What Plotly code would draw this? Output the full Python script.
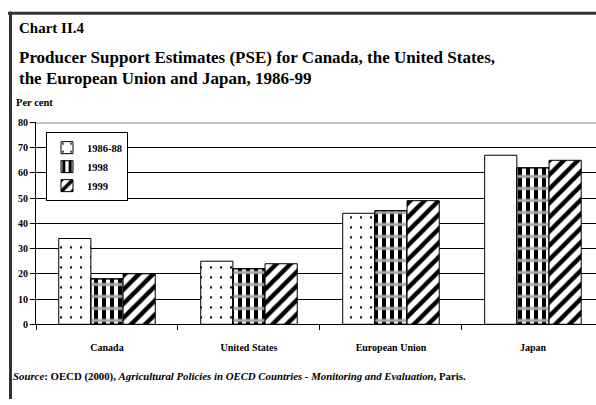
import plotly.graph_objects as go

# Producer Support Estimates, per cent of gross farm receipts
countries = ["Canada", "United States", "European Union", "Japan"]
pse_1986_88 = [34, 25, 44, 67]
pse_1998 = [18, 22, 45, 62]
pse_1999 = [20, 24, 49, 65]
y_ticks = [0, 10, 20, 30, 40, 50, 60, 70, 80]

W, H = 596, 405
SERIF = "Liberation Serif"


def px_x(x):
    return x / W


def px_y(y):
    return 1 - y / H


fig = go.Figure()

fig.add_trace(go.Bar(
    name="1986-88", x=countries, y=pse_1986_88, offsetgroup="a",
    marker=dict(color="white", line=dict(color="black", width=1),
                pattern=dict(shape=[".", ".", ".", ""], size=10, solidity=0.04,
                             fgcolor="black", bgcolor="white", fgopacity=1)),
))
fig.add_trace(go.Bar(
    name="1998", x=countries, y=pse_1998, offsetgroup="b",
    marker=dict(color="white", line=dict(color="black", width=1),
                pattern=dict(shape="|", size=8, solidity=0.5,
                             fgcolor="black", bgcolor="white", fgopacity=1)),
))
# horizontal grey bands laid over the 1998 stripes
fig.add_trace(go.Bar(
    name="1998", x=countries, y=pse_1998, offsetgroup="b", showlegend=False,
    hoverinfo="skip",
    marker=dict(color="rgba(0,0,0,0)", line=dict(color="black", width=1),
                pattern=dict(shape="-", size=12, solidity=0.25,
                             fgcolor="#a8a8a8", bgcolor="rgba(0,0,0,0)", fgopacity=1)),
))
fig.add_trace(go.Bar(
    name="1999", x=countries, y=pse_1999, offsetgroup="c",
    marker=dict(color="white", line=dict(color="black", width=1),
                pattern=dict(shape="/", size=10, solidity=0.45,
                             fgcolor="black", bgcolor="white", fgopacity=1)),
))

fig.update_layout(
    width=W, height=H,
    margin=dict(l=0, r=0, t=0, b=0),
    paper_bgcolor="white", plot_bgcolor="white",
    barmode="group", bargap=0.32, bargroupgap=0,
    font=dict(family=SERIF, color="black"),
    showlegend=True,
    legend=dict(x=px_x(46), y=px_y(130), xanchor="left", yanchor="top",
                bgcolor="white", bordercolor="black", borderwidth=1,
                font=dict(family=SERIF, size=10.5, weight="bold"),
                tracegroupgap=0, itemwidth=30),
)

fig.update_xaxes(
    domain=[px_x(36), 1], range=[-0.5, 3.444],
    showline=True, linecolor="black", linewidth=1,
    ticks="outside", tickson="boundaries", ticklen=5, tickcolor="black",
    ticklabelstandoff=14,
    tickfont=dict(family=SERIF, size=10, weight="bold"),
    showgrid=False, fixedrange=True,
)
fig.update_yaxes(
    domain=[px_y(328), px_y(120)], range=[0, 80],
    tickvals=y_ticks, ticktext=[str(v) for v in y_ticks],
    showline=True, linecolor="black", linewidth=1,
    ticks="outside", ticklen=5, tickcolor="black",
    tickfont=dict(family=SERIF, size=10, weight="bold"),
    showgrid=True, gridcolor="black", gridwidth=1, zeroline=False,
    fixedrange=True,
)

# frame: plot top line, outer top and left borders
fig.add_shape(type="line", xref="paper", yref="y", x0=px_x(36), x1=1, y0=80, y1=80,
              line=dict(color="#8a8a8a", width=2))
fig.add_shape(type="line", xref="paper", yref="paper", x0=px_x(8), x1=1,
              y0=px_y(7.5), y1=px_y(7.5), line=dict(color="#333333", width=3))
fig.add_shape(type="line", xref="paper", yref="paper", x0=px_x(10.5), x1=px_x(10.5),
              y0=0, y1=px_y(6), line=dict(color="#333333", width=3))

texts = [
    ("<b>Chart II.4</b>", 17, 23, 15),
    ("<b>Producer Support Estimates (PSE) for Canada, the United States,</b>", 17, 53, 17),
    ("<b>the European Union and Japan, 1986-99</b>", 17, 75, 17),
    ("<b>Per cent</b>", 14, 99, 10.5),
    ("<i><b>Source</b></i><b>: OECD (2000), </b><i><b>Agricultural Policies in OECD Countries - "
     "Monitoring and Evaluation</b></i><b>, Paris.</b>", 11, 382, 10.8),
]
for txt, x, y, size in texts:
    fig.add_annotation(text=txt, xref="paper", yref="paper", x=px_x(x), y=px_y(y),
                       xanchor="left", yanchor="middle", showarrow=False,
                       font=dict(family=SERIF, size=size, color="black"))

fig.write_html("out.html")
